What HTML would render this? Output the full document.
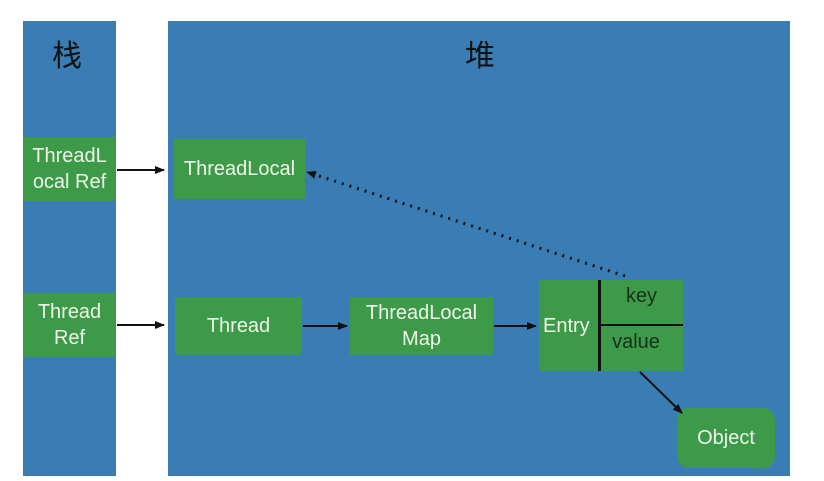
<!DOCTYPE html>
<html><head><meta charset="utf-8"><style>
body{margin:0;width:824px;height:481px;background:#fff;position:relative;overflow:hidden;font-family:"Liberation Sans","Noto Sans CJK SC",sans-serif}
.col{position:absolute;background:#3a7db4}
.b{position:absolute;background:#3d9a48;color:#eef5ea;font-size:20px;display:flex;align-items:center;justify-content:center;text-align:center;line-height:26px}
.t{position:absolute;font-size:30px;color:#111}
</style></head><body>
<div class="col" style="left:23px;top:21px;width:93px;height:455px"></div>
<div class="col" style="left:168px;top:21px;width:622px;height:455px"></div>
<div class="t" style="left:52px;top:31px">栈</div>
<div class="t" style="left:465px;top:31px">堆</div>
<div class="b" style="left:23px;top:137px;width:93px;height:64px">ThreadL<br>ocal Ref</div>
<div class="b" style="left:174px;top:139px;width:131px;height:60px">ThreadLocal</div>
<div class="b" style="left:23px;top:293px;width:93px;height:64px">Thread<br>Ref</div>
<div class="b" style="left:175px;top:297px;width:127px;height:58px">Thread</div>
<div class="b" style="left:350px;top:297px;width:143px;height:58px">ThreadLocal<br>Map</div>
<div class="b" style="left:539px;top:280px;width:144px;height:91px;justify-content:flex-start"><span style="margin-left:4px">Entry</span></div>
<div class="b" style="left:677px;top:408px;width:98px;height:60px;border-radius:12px">Object</div>
<div style="position:absolute;left:598px;top:280px;width:3px;height:91px;background:#111"></div>
<div style="position:absolute;left:598px;top:324px;width:85px;height:2px;background:#111"></div>
<div style="position:absolute;left:600px;top:285px;width:83px;text-align:center;font-size:20px;color:#15301a">key</div>
<div style="position:absolute;left:600px;top:331px;width:72px;text-align:center;font-size:20px;color:#15301a">value</div>
<svg width="824" height="481" style="position:absolute;left:0;top:0">
<defs><marker id="a" markerWidth="10" markerHeight="10" refX="9" refY="5" orient="auto" markerUnits="userSpaceOnUse"><path d="M0,1 L10,5 L0,9 z" fill="#111"/></marker></defs>
<g stroke="#111" stroke-width="2" fill="none">
<line x1="117" y1="170" x2="164" y2="170" marker-end="url(#a)"/>
<line x1="117" y1="325" x2="164" y2="325" marker-end="url(#a)"/>
<line x1="303" y1="326" x2="347" y2="326" marker-end="url(#a)"/>
<line x1="494" y1="326" x2="536" y2="326" marker-end="url(#a)"/>
<line x1="640" y1="372" x2="682" y2="413" marker-end="url(#a)"/>
<line x1="625" y1="276" x2="307" y2="172" stroke-width="3" stroke-dasharray="2,6" marker-end="url(#a)"/>
</g></svg>
</body></html>
